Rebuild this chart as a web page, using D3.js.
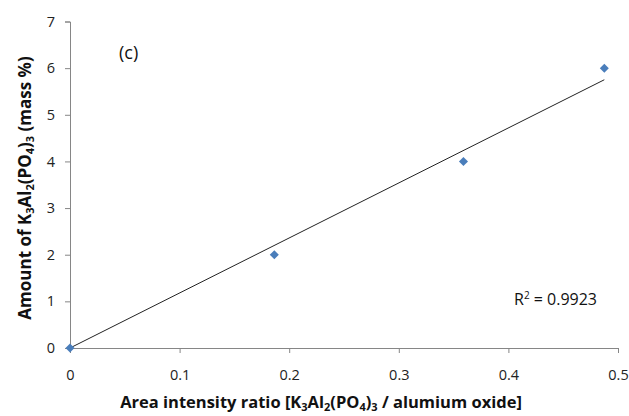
<!DOCTYPE html>
<html>
<head>
<meta charset="utf-8">
<script src="https://cdn.jsdelivr.net/npm/d3@7"></script>
<style>
  body { margin: 0; background: #fff; }
  svg { font-family: "Open Sans", "Liberation Sans", sans-serif; }
  .axis-title { font-weight: bold; font-size: 16.5px; fill: #111; }
</style>
</head>
<body>
<svg width="629" height="416"></svg>
<script>
// measured points
var ratio = [0, 0.1864, 0.359, 0.4875];
var amount = [0, 2, 4, 6];
var xTicks = [0, 0.1, 0.2, 0.3, 0.4, 0.5];
var yTicks = [0, 1, 2, 3, 4, 5, 6, 7];
var r2Label = "0.9923";

var svg = d3.select("svg"),
    margin = { left: 70, right: 11, top: 21.5, bottom: 68 },
    width = +svg.attr("width"),
    height = +svg.attr("height");

var x = d3.scaleLinear().domain([0, 0.5]).range([margin.left, width - margin.right]);
var y = d3.scaleLinear().domain([0, 7]).range([height - margin.bottom, margin.top]);

var grey = "#868686";

// x axis
var xAxis = svg.append("g")
  .attr("transform", "translate(0," + y(0) + ")")
  .call(d3.axisBottom(x).tickValues(xTicks).tickSize(5).tickPadding(17)
    .tickFormat(function (d) { return d === 0 ? "0" : d3.format(".1f")(d); }));
xAxis.select(".domain").attr("stroke", grey);
xAxis.selectAll(".tick line").attr("stroke", grey);

// y axis
var yAxis = svg.append("g")
  .attr("transform", "translate(" + x(0) + ",0)")
  .call(d3.axisLeft(y).tickValues(yTicks).tickSize(5).tickPadding(10).tickFormat(d3.format("d")));
yAxis.select(".domain").attr("stroke", grey);
yAxis.selectAll(".tick line").attr("stroke", grey);

svg.selectAll(".tick text")
  .attr("font-family", null)
  .style("font-size", "14.5px")
  .attr("fill", "#222");
svg.selectAll("g").attr("font-family", null).attr("font-size", null);

// trend line through origin (least squares, zero intercept)
var sxy = d3.sum(ratio, function (d, i) { return d * amount[i]; });
var sxx = d3.sum(ratio, function (d) { return d * d; });
var slope = sxy / sxx;
var xMax = d3.max(ratio);

svg.append("line")
  .attr("x1", x(0)).attr("y1", y(0))
  .attr("x2", x(xMax)).attr("y2", y(slope * xMax))
  .attr("stroke", "#222")
  .attr("stroke-width", 1);

// markers
svg.append("g").selectAll("path")
  .data(ratio)
  .enter().append("path")
  .attr("d", d3.symbol().type(d3.symbolDiamond2).size(52))
  .attr("transform", function (d, i) { return "translate(" + x(d) + "," + y(amount[i]) + ")"; })
  .attr("fill", "#4a7ebb");

// panel label
svg.append("text")
  .attr("x", 119).attr("y", 59)
  .style("font-size", "18px")
  .attr("fill", "#111")
  .text("(c)");

// R² label
var r2 = svg.append("text")
  .attr("x", 514).attr("y", 305)
  .style("font-size", "16px")
  .attr("fill", "#111");
r2.append("tspan").text("R");
r2.append("tspan").attr("dy", -6).style("font-size", "10px").text("2");
r2.append("tspan").attr("dy", 6).text(" = " + r2Label);

function subTitle(sel, parts) {
  parts.forEach(function (p) {
    if (p.sub) {
      sel.append("tspan").attr("dy", 3).style("font-size", "11px").text(p.sub);
    } else {
      sel.append("tspan").attr("dy", p.after ? -3 : 0).text(p.t);
    }
  });
}

var formula = [
  { sub: "3" }, { t: "Al", after: true }, { sub: "2" }, { t: "(PO", after: true },
  { sub: "4" }, { t: ")", after: true }, { sub: "3" }
];

// x axis title
var xt = svg.append("text")
  .attr("class", "axis-title")
  .attr("x", 321)
  .attr("y", 408)
  .attr("text-anchor", "middle");
subTitle(xt, [{ t: "Area intensity ratio [K" }].concat(formula, [{ t: " / alumium oxide]", after: true }]));

// y axis title
var yt = svg.append("text")
  .attr("class", "axis-title")
  .style("font-size", "17px")
  .attr("transform", "translate(31,188) rotate(-90)")
  .attr("text-anchor", "middle");
subTitle(yt, [{ t: "Amount of K" }].concat(formula, [{ t: " (mass %)", after: true }]));
</script>
</body>
</html>
